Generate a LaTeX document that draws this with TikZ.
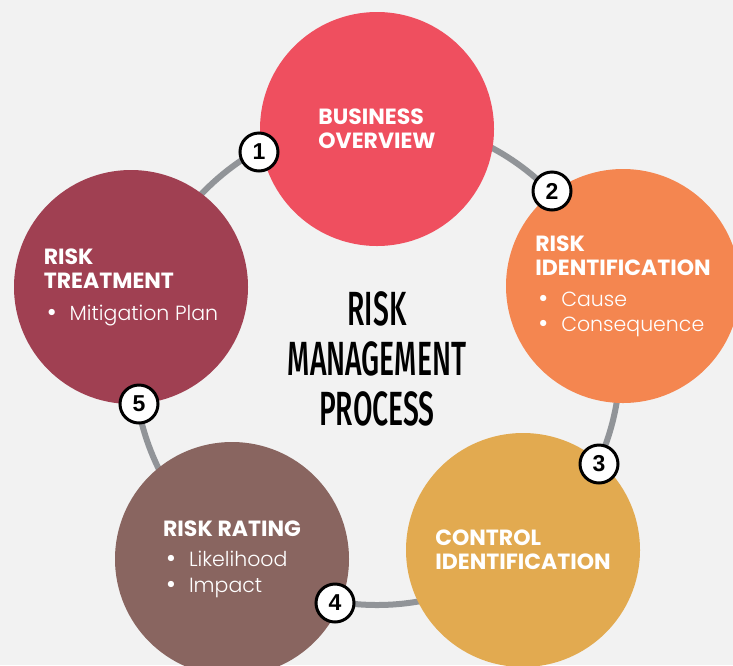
\documentclass[tikz,border=0pt]{standalone}
\usepackage{fontspec}
\usepackage{xcolor}
\usetikzlibrary{positioning, calc}
\setmainfont{Poppins}
\newfontfamily\lightfont{Poppins Light}
\newfontfamily\condfont[FakeStretch=0.59]{Fira Sans Medium}
\newfontfamily\numfont{Liberation Sans}
\definecolor{cBack}{RGB}{242,242,242}
\definecolor{cRing}{RGB}{145,148,152}
\definecolor{cBiz}{RGB}{239,79,95}
\definecolor{cIdent}{RGB}{244,134,80}
\definecolor{cCtrl}{RGB}{226,170,80}
\definecolor{cRate}{RGB}{137,101,96}
\definecolor{cTreat}{RGB}{160,64,82}
\newcommand{\hd}{\bfseries\fontsize{22}{24}\selectfont}
\newcommand{\itm}[1]{\lightfont\fontsize{20.5}{24}\selectfont\hspace*{3pt}{\fontsize{27}{24}\selectfont\raisebox{-1pt}{\textbullet}}\hspace{13pt}#1}
\tikzset{
	stage/.style  ={circle, minimum size=234pt, inner sep=0pt, text=white, align=left, font=\fontsize{19}{24}\selectfont},
	badge/.style  ={circle, draw=black, line width=3pt, fill=white, minimum size=38pt, inner sep=0pt, font=\numfont\bfseries\fontsize{23}{23}\selectfont},
	heading/.style={align=center, text=black, font=\condfont\fontsize{48}{50}\selectfont},
	ring/.style   ={line width=6pt, draw=cRing},
}
\begin{document}
\begin{tikzpicture}[x=1pt, y=-1pt]
	\fill[cBack] (0,0) rectangle (733,665);
	\clip (0,0) rectangle (733,665);
	\coordinate (hub) at (377,362);
	\draw[ring] (hub) circle[radius=243pt];
	% the five stages
	\node[stage, fill=cBiz]   (biz)   at (377,129) {\hd BUSINESS\\\hd OVERVIEW};
	\node[stage, fill=cIdent] (ident) at (623,286) {\hd RISK\\\hd IDENTIFICATION\\[7pt]\itm{Cause}\\[1pt]\itm{Consequence}};
	\node[stage, fill=cCtrl]  (ctrl)  at (523,550) {\hd CONTROL\\\hd IDENTIFICATION};
	\node[stage, fill=cRate]  (rate)  at (232,559) {\hd RISK RATING\\[6pt]\itm{Likelihood}\\[2pt]\itm{Impact}};
	\node[stage, fill=cTreat] (treat) at (131,287) {\hd RISK\\\hd TREATMENT\\[8pt]\itm{Mitigation Plan}};
	\node[heading] (title) at (377,359) {RISK\\MANAGEMENT\\PROCESS};
	% step numbers on the ring
	\foreach \n/\x/\y in {1/259/152, 2/552/191, 3/599/464, 4/335/603, 5/139/404} {
		\node[badge] (b\n) at (\x,\y) {\n};
	}
\end{tikzpicture}
\end{document}
